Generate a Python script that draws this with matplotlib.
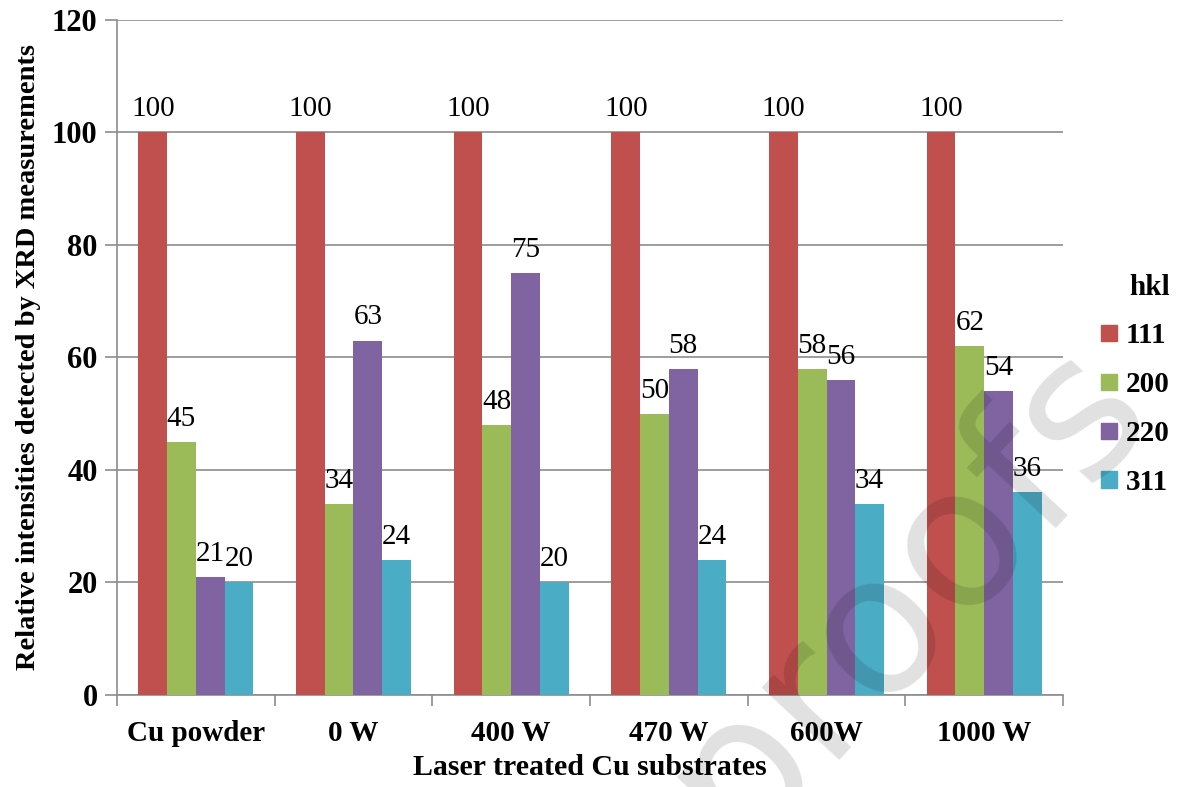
import matplotlib.pyplot as plt
import numpy as np
from matplotlib.patches import Patch

categories = ['Cu powder', '0 W', '400 W', '470 W', '600W', '1000 W']
hkl_labels = ['111', '200', '220', '311']
v111 = [100, 100, 100, 100, 100, 100]
v200 = [45, 34, 48, 50, 58, 62]
v220 = [21, 63, 75, 58, 56, 54]
v311 = [20, 24, 20, 24, 34, 36]
yticks = [0, 20, 40, 60, 80, 100, 120]

colors = ['#C0504D', '#9BBB59', '#8064A2', '#4BACC6']
serif = ['Liberation Serif', 'DejaVu Serif']

plt.rcParams['font.family'] = serif

fig = plt.figure(figsize=(11.78, 7.87), dpi=100)
ax = fig.add_axes([0.0993, 0.1169, 0.8031, 0.8577])

x = np.arange(len(categories))
w = 0.182
series = [v111, v200, v220, v311]
for k, vals in enumerate(series):
    pos = x + (k - 1.5) * w
    ax.bar(pos, vals, width=w, color=colors[k], zorder=3)
    for px, v in zip(pos, vals):
        ax.text(px, v + 1.8, str(v), ha='center', va='bottom', fontsize=21, zorder=4)

ax.set_xlim(-0.5, len(categories) - 0.5)
ax.set_ylim(0, 120)
ax.set_yticks(yticks)
ax.set_yticklabels([str(t) for t in yticks], fontsize=22, fontweight='bold')
ax.yaxis.grid(True, color='#8c8c8c', linewidth=1.2, zorder=0)

# category labels centred, tick marks between groups
ax.set_xticks(x)
ax.set_xticklabels(categories, fontsize=21, fontweight='bold')
ax.tick_params(axis='x', length=0, pad=18)
ax.set_xticks(np.arange(-0.5, len(categories)), minor=True)
ax.tick_params(axis='x', which='minor', length=8, color='#8c8c8c', width=1.2)
ax.tick_params(axis='y', length=9, color='#8c8c8c', width=1.2, pad=5)

for s in ['top', 'right']:
    ax.spines[s].set_visible(False)
for s in ['left', 'bottom']:
    ax.spines[s].set_color('#8c8c8c')
    ax.spines[s].set_linewidth(1.2)

ax.set_ylabel('Relative intensities detected by XRD measurements',
              fontsize=20.5, fontweight='bold', labelpad=8)
ax.set_xlabel('Laser treated Cu substrates', fontsize=21.5, fontweight='bold', labelpad=5)

handles = [Patch(color=c) for c in colors]
leg = fig.legend(handles, hkl_labels, loc='center left', bbox_to_anchor=(0.9346, 0.511),
                 frameon=False, title='hkl', handlelength=0.55, handleheight=0.5,
                 handletextpad=0.3, labelspacing=0.75, alignment='right',
                 borderpad=0, borderaxespad=0,
                 prop={'family': serif, 'size': 21, 'weight': 'bold'},
                 title_fontproperties={'family': serif, 'size': 21, 'weight': 'bold'})

# faint watermark from the journal page
fig.text(1115 / 1178, 1 - 375 / 787, '-proofs', fontsize=140,
         family='DejaVu Sans', color='black', alpha=0.12, rotation=47,
         rotation_mode='anchor', ha='right', va='center', zorder=10)

fig.savefig('out.png', dpi=100)
